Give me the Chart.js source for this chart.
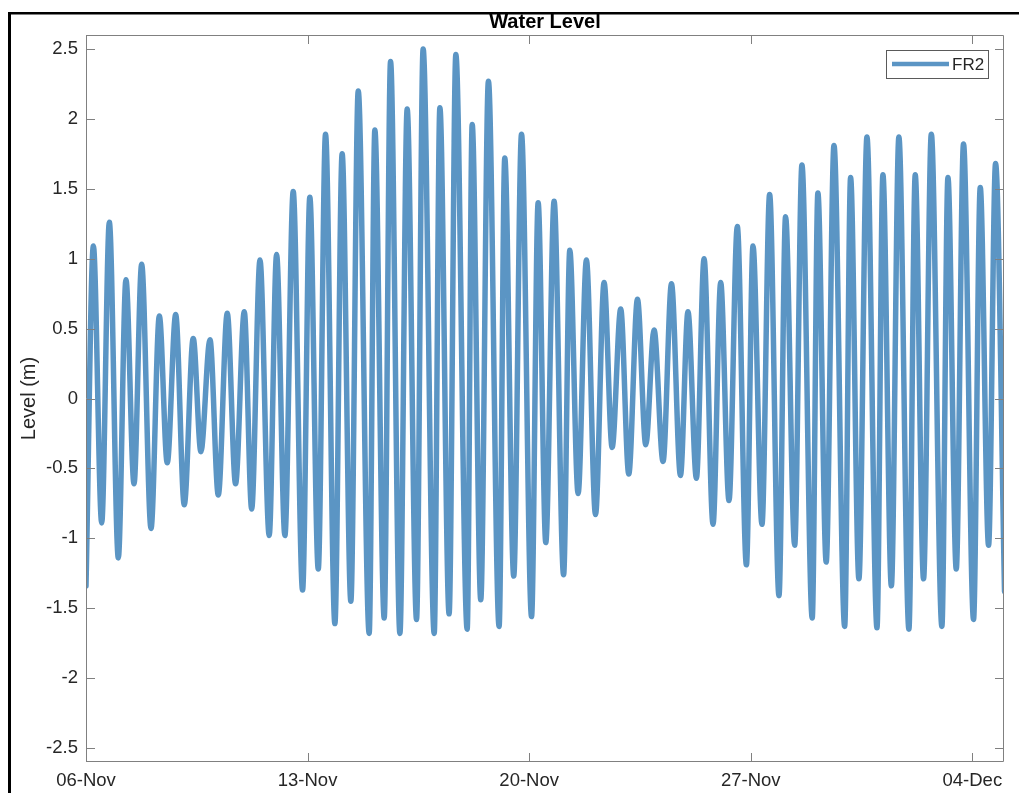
<!DOCTYPE html>
<html>
<head>
<meta charset="utf-8">
<title>Water Level</title>
<script src="https://cdn.jsdelivr.net/npm/chart.js@4.4.1/dist/chart.umd.min.js"></script>
<style>
  html, body { margin: 0; padding: 0; background: #fff; }
  #wl-chart { display: block; }
</style>
</head>
<body>
<canvas id="wl-chart" width="1019" height="793"></canvas>
<script>
// highs / lows, hours since 06-Nov 00:00
const hours = [
  0, 5.6, 11.9, 17.7, 24.5, 30.3, 36.4, 42.2, 49.3, 55.6, 61.6, 68.0, 74.5, 81.3, 87.1, 94.0,
  100.3, 107.1, 113.4, 120.0, 125.6, 131.9, 138.9, 144.5, 150.8, 157.1, 164.2, 169.7, 176.1,
  181.6, 188.7, 194.2, 200.8, 206.4, 214.7, 219.0, 226.1, 230.9, 238.0, 243.5, 250.6, 255.6,
  264.0, 268.3, 275.3, 280.4, 289.0, 292.8, 299.3, 305.1, 313.2, 317.5, 324.3, 330.2, 337.8,
  342.8, 348.6, 354.9, 362.1, 366.8, 373.1, 379.4, 386.3, 392.8, 398.9, 405.4, 411.5, 418.1,
  424.4, 430.7, 437.5, 443.9, 450.7, 456.4, 462.8, 468.6, 475.4, 481.2, 487.5, 493.8, 500.7,
  505.7, 512.5, 518.3, 525.4, 530.4, 537.3, 542.8, 550.6, 554.9, 561.2, 567.1, 575.2, 579.7,
  586.0, 592.1, 599.7, 604.2, 610.6, 616.3, 623.9, 628.7, 635.0, 640.9, 648.9, 653.5, 659.8,
  665.3, 672.9, 678.0, 684.3, 689.6, 696.4
];
const levels = [
  -1.34, 1.09, -0.89, 1.26, -1.14, 0.85, -0.61, 0.96, -0.93, 0.59, -0.46, 0.60, -0.76, 0.43, -0.38, 0.42,
  -0.69, 0.61, -0.61, 0.62, -0.79, 0.99, -0.98, 1.03, -0.98, 1.48, -1.37, 1.44, -1.22,
  1.89, -1.61, 1.75, -1.45, 2.20, -1.68, 1.92, -1.57, 2.41, -1.68, 2.07, -1.58, 2.50,
  -1.68, 2.08, -1.54, 2.46, -1.65, 1.96, -1.44, 2.27, -1.63, 1.72, -1.27, 1.89, -1.56,
  1.40, -1.03, 1.41, -1.26, 1.06, -0.68, 0.99, -0.83, 0.83, -0.35, 0.64, -0.54, 0.71,
  -0.33, 0.49, -0.45, 0.82, -0.55, 0.62, -0.57, 1.00, -0.90, 0.83, -0.73, 1.23, -1.19,
  1.09, -0.90, 1.46, -1.41, 1.30, -1.05, 1.67, -1.57, 1.47, -1.17, 1.81, -1.63, 1.58,
  -1.29, 1.87, -1.64, 1.60, -1.34, 1.87, -1.65, 1.60, -1.29, 1.89, -1.63, 1.58, -1.22,
  1.82, -1.58, 1.51, -1.05, 1.68, -1.38
];

const xTickHours = [0, 168, 336, 504, 672];
const xTickLabels = ["06-Nov", "13-Nov", "20-Nov", "27-Nov", "04-Dec"];
const yTicks = [-2.5, -2, -1.5, -1, -0.5, 0, 0.5, 1, 1.5, 2, 2.5];
const seriesName = "FR2";

const lineColor = "#5b95c4";
const axisColor = "#808080";
const textColor = "#262626";
const fontFam = "'Liberation Sans', Arial, Helvetica, sans-serif";

// box, inward ticks, legend, title, outer frame
const matlabLook = {
  id: "matlabLook",
  afterDraw(chart) {
    const ctx = chart.ctx;
    const a = chart.chartArea;
    const xs = chart.scales.x, ys = chart.scales.y;
    const tl = 9;
    ctx.save();

    ctx.strokeStyle = axisColor;
    ctx.lineWidth = 1;
    ctx.beginPath();
    ctx.rect(a.left + 0.5, a.top + 0.5, a.right - a.left - 1, a.bottom - a.top - 1);
    yTicks.forEach(v => {
      const py = Math.round(ys.getPixelForValue(v)) + 0.5;
      ctx.moveTo(a.left, py); ctx.lineTo(a.left + tl, py);
      ctx.moveTo(a.right, py); ctx.lineTo(a.right - tl, py);
    });
    xTickHours.forEach(v => {
      const px = Math.round(xs.getPixelForValue(v)) + 0.5;
      ctx.moveTo(px, a.bottom); ctx.lineTo(px, a.bottom - tl);
      ctx.moveTo(px, a.top); ctx.lineTo(px, a.top + tl);
    });
    ctx.stroke();

    // legend
    const lx = 886, ly = 50, lw = 102, lh = 28;
    ctx.fillStyle = "#fff";
    ctx.fillRect(lx, ly, lw, lh);
    ctx.strokeStyle = "#5a5a5a";
    ctx.strokeRect(lx + 0.5, ly + 0.5, lw, lh);
    ctx.strokeStyle = lineColor;
    ctx.lineWidth = 4.5;
    ctx.beginPath();
    ctx.moveTo(lx + 6, ly + 14);
    ctx.lineTo(lx + 63, ly + 14);
    ctx.stroke();
    ctx.fillStyle = textColor;
    ctx.font = "17px " + fontFam;
    ctx.textAlign = "left";
    ctx.textBaseline = "middle";
    ctx.fillText(seriesName, lx + 66, ly + 15);

    // outer black frame (screenshot edge)
    ctx.fillStyle = "#000";
    ctx.fillRect(8, 12, 1011, 2.5);
    ctx.fillRect(8, 12, 3, 781);

    // title
    ctx.fillStyle = "#000";
    ctx.font = "bold 20px " + fontFam;
    ctx.textAlign = "center";
    ctx.textBaseline = "middle";
    ctx.fillText("Water Level", (a.left + a.right) / 2, 22);

    ctx.restore();
  }
};

const points = hours.map((h, i) => ({ x: h, y: levels[i] }));

new Chart(document.getElementById("wl-chart").getContext("2d"), {
  type: "line",
  data: {
    datasets: [{
      label: seriesName,
      data: points,
      borderColor: lineColor,
      borderWidth: 5.5,
      pointRadius: 0,
      fill: false,
      cubicInterpolationMode: "monotone",
      borderJoinStyle: "round",
      borderCapStyle: "round"
    }]
  },
  options: {
    responsive: false,
    animation: false,
    devicePixelRatio: 1,
    layout: { padding: { left: 0, top: 35, right: 15, bottom: 0 } },
    plugins: {
      legend: { display: false },
      title: { display: false },
      tooltip: { enabled: false }
    },
    scales: {
      x: {
        type: "linear",
        min: 0,
        max: 696,
        grid: { display: false, drawTicks: false },
        border: { display: false },
        afterBuildTicks: s => { s.ticks = xTickHours.map(v => ({ value: v })); },
        afterFit: s => { s.height = 31; },
        ticks: {
          autoSkip: false,
          maxRotation: 0,
          padding: 8,
          color: textColor,
          font: { family: fontFam, size: 18.5 },
          callback: v => xTickLabels[xTickHours.indexOf(v)]
        }
      },
      y: {
        min: -2.6,
        max: 2.6,
        grid: { display: false, drawTicks: false },
        border: { display: false },
        afterBuildTicks: s => { s.ticks = yTicks.map(v => ({ value: v })); },
        afterFit: s => { s.width = 86; },
        ticks: {
          padding: 8,
          color: textColor,
          font: { family: fontFam, size: 18.5 },
          callback: v => String(v)
        },
        title: {
          display: true,
          text: "Level (m)",
          color: textColor,
          font: { family: fontFam, size: 20 },
          padding: { top: 17, bottom: 0 }
        }
      }
    }
  },
  plugins: [matlabLook]
});
</script>
</body>
</html>
